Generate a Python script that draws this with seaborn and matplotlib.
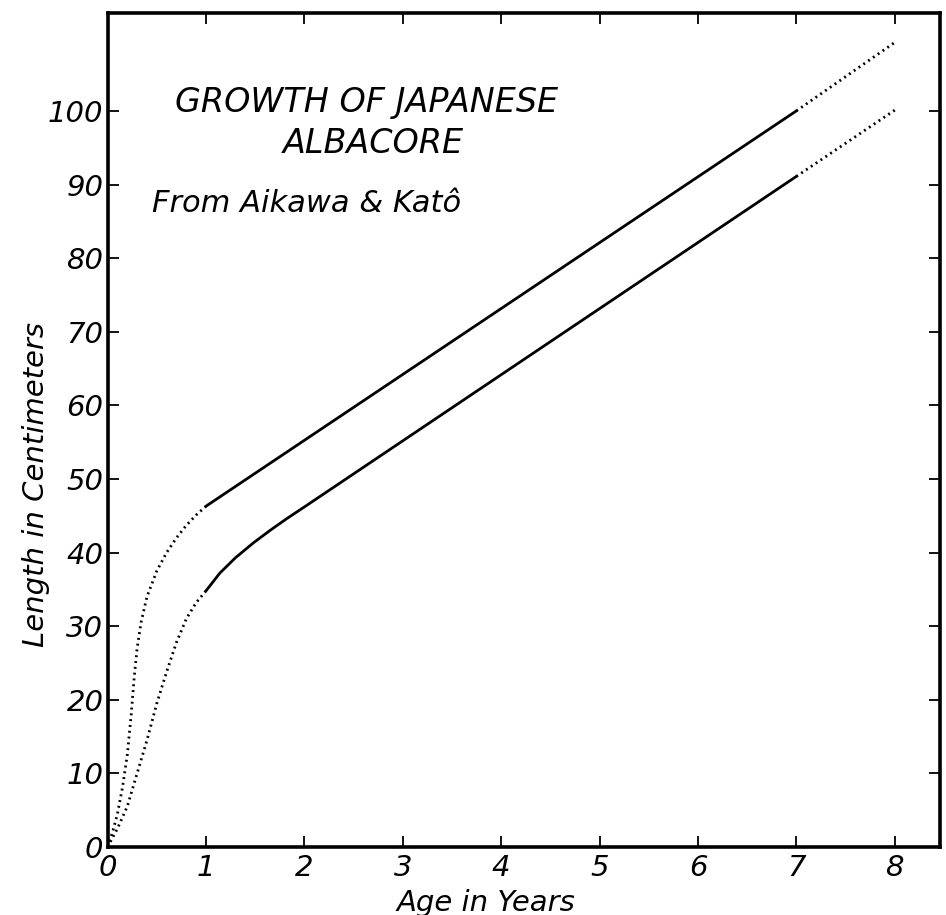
import matplotlib
matplotlib.use("Agg")
import matplotlib.pyplot as plt
import seaborn as sns

# Growth of Japanese albacore (Aikawa & Kato)
# upper curve
upper_early_age = [0, 0.05, 0.1, 0.15, 0.2, 0.24, 0.27, 0.30, 0.34, 0.4, 0.5, 0.6, 0.7, 0.8, 0.9, 1.0]
upper_early_len = [0, 2, 4.5, 8, 12.5, 18, 23, 27, 30.5, 34, 37.5, 40, 42, 43.7, 45.1, 46.3]
upper_mid_age = [1.0, 7.0]
upper_mid_len = [46.3, 100.0]
upper_late_age = [7.0, 8.0]
upper_late_len = [100.0, 109.3]

# lower curve
lower_early_age = [0, 0.1, 0.2, 0.3, 0.4, 0.5, 0.6, 0.7, 0.8, 0.9, 1.0]
lower_early_len = [0, 2.5, 5.5, 10, 14.5, 19.5, 23.8, 27.8, 31, 33.2, 34.8]
lower_mid_age = [1.0, 1.14, 1.3, 1.48, 1.65, 1.82, 2.0, 7.0]
lower_mid_len = [34.8, 37.2, 39.3, 41.3, 43.0, 44.6, 46.2, 91.1]
lower_late_age = [7.0, 8.0]
lower_late_len = [91.1, 100.1]

x_ticks = list(range(0, 9))
y_ticks = list(range(0, 101, 10))

sns.set_style("ticks")
plt.rcParams["font.family"] = ["DejaVu Sans"]
plt.rcParams["font.style"] = "oblique"
plt.rcParams["text.color"] = "black"
plt.rcParams["axes.labelcolor"] = "black"

fig = plt.figure(figsize=(9.46, 9.15), dpi=100)
ax = fig.add_axes([107.6 / 946, 68 / 915, 832.4 / 946, 834 / 915])

# dotted = the extrapolated parts of the curves
dot = dict(color="black", linewidth=2.0, linestyle=(0, (0.7, 1.4)), estimator=None)
solid = dict(color="black", linewidth=2.0, estimator=None)

sns.lineplot(x=upper_early_age, y=upper_early_len, ax=ax, **dot)
sns.lineplot(x=upper_mid_age, y=upper_mid_len, ax=ax, **solid)
sns.lineplot(x=upper_late_age, y=upper_late_len, ax=ax, **dot)
sns.lineplot(x=lower_early_age, y=lower_early_len, ax=ax, **dot)
sns.lineplot(x=lower_mid_age, y=lower_mid_len, ax=ax, **solid)
sns.lineplot(x=lower_late_age, y=lower_late_len, ax=ax, **dot)

ax.set_xlim(0, 8.46)
ax.set_ylim(0, 113.3)
ax.set_xticks(x_ticks)
ax.set_yticks(y_ticks)
ax.set_xticklabels([str(v) for v in x_ticks], fontsize=21, style="oblique")
ax.set_yticklabels([str(v) for v in y_ticks], fontsize=21, style="oblique")
ax.tick_params(direction="in", length=8, width=1.3, top=True, right=True,
               colors="black", labelcolor="black")
ax.tick_params(axis="x", pad=5)
ax.tick_params(axis="y", pad=3)
for s in ax.spines.values():
    s.set_visible(True)
    s.set_linewidth(2.6)
    s.set_color("black")

ax.set_xlabel("Age in Years", fontsize=21, style="oblique", color="black")
ax.set_ylabel("Length in Centimeters", fontsize=21, style="oblique", color="black")
ax.xaxis.set_label_coords(0.455, -0.05)
ax.yaxis.set_label_coords(-0.069, 0.435)

ax.text(0.311, 0.893, "GROWTH OF JAPANESE", transform=ax.transAxes,
        ha="center", va="center", fontsize=24, style="oblique", color="black")
ax.text(0.319, 0.843, "ALBACORE", transform=ax.transAxes,
        ha="center", va="center", fontsize=24, style="oblique", color="black")
ax.text(0.053, 0.772, "From Aikawa & Katô", transform=ax.transAxes,
        ha="left", va="center", fontsize=22, style="oblique", color="black")

fig.savefig("out.png", dpi=100, facecolor="white")
plt.close(fig)
